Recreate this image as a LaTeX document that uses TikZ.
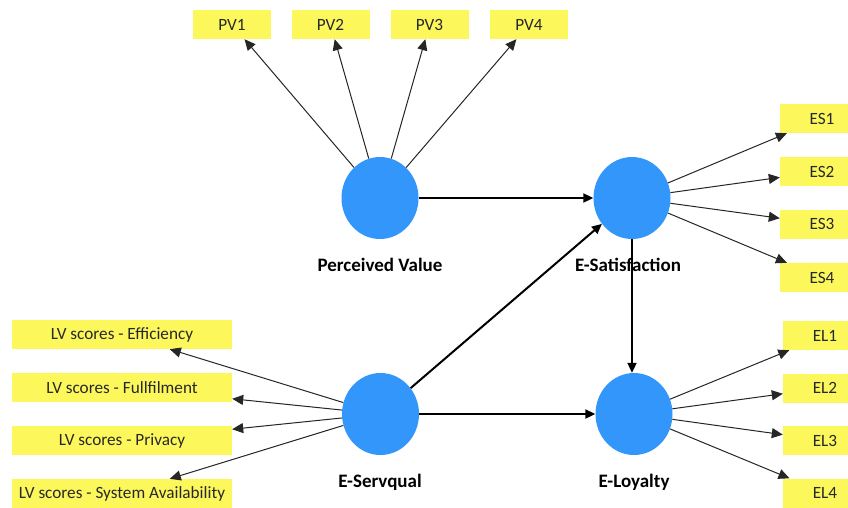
\documentclass[tikz,border=0pt]{standalone}
\usepackage{fontspec}
\setmainfont{Carlito}
\usetikzlibrary{arrows.meta,shapes.geometric}
\definecolor{lvblue}{RGB}{51,150,250}
\definecolor{mvyellow}{RGB}{252,248,92}
\definecolor{txtgray}{RGB}{40,40,40}
\tikzset{
  latent/.style={ellipse,fill=lvblue,draw=none,minimum width=77pt,minimum height=82pt,inner sep=0pt},
  mvbox/.style={rectangle,fill=mvyellow,draw=none,minimum height=29pt,inner sep=0pt,text=txtgray,font=\fontsize{17.2}{19}\selectfont},
  lvlabel/.style={font=\bfseries\fontsize{19}{21}\selectfont,text=black},
  indarrow/.style={draw=black!85,line width=1pt,-{Triangle[length=11pt,width=10pt]}},
  patharrow/.style={draw=black,line width=2pt,-{Triangle[length=10pt,width=9pt]}}
}
\begin{document}
\begin{tikzpicture}[x=1pt,y=-1pt]
\useasboundingbox (0,0) rectangle (848,507);
\fill[white] (0,0) rectangle (848,507);
% latent variables
\node[latent] (pv) at (380,198) {};
\node[latent] (esat) at (632,198) {};
\node[latent] (esq) at (380.5,414) {};
\node[latent] (eloy) at (634,414) {};
\node[lvlabel] (pvl) at (380,265) {Perceived Value};
\node[lvlabel] (esatl) at (628,265) {E-Satisfaction};
\node[lvlabel] (esql) at (380,482) {E-Servqual};
\node[lvlabel] (eloyl) at (634,482) {E-Loyalty};
% PV indicators
\node[mvbox,minimum width=78pt] (pv1) at (232,24.5) {PV1};
\node[mvbox,minimum width=78pt] (pv2) at (330.5,24.5) {PV2};
\node[mvbox,minimum width=78pt] (pv3) at (429.5,24.5) {PV3};
\node[mvbox,minimum width=78pt] (pv4) at (529,24.5) {PV4};
% ES indicators
\node[mvbox,minimum width=84pt] (es1) at (822,118.5) {ES1};
\node[mvbox,minimum width=84pt] (es2) at (822,171.5) {ES2};
\node[mvbox,minimum width=84pt] (es3) at (822,224) {ES3};
\node[mvbox,minimum width=84pt] (es4) at (822,277.5) {ES4};
% EL indicators
\node[mvbox,minimum width=84pt] (el1) at (825,335.5) {EL1};
\node[mvbox,minimum width=84pt] (el2) at (825,388) {EL2};
\node[mvbox,minimum width=84pt] (el3) at (825,440.5) {EL3};
\node[mvbox,minimum width=84pt] (el4) at (825,493) {EL4};
% E-Servqual indicators
\node[mvbox,minimum width=220pt] (sq1) at (122,334.5) {LV scores - Efficiency};
\node[mvbox,minimum width=220pt] (sq2) at (122,387.5) {LV scores - Fullfilment};
\node[mvbox,minimum width=220pt] (sq3) at (122,440.5) {LV scores - Privacy};
\node[mvbox,minimum width=220pt] (sq4) at (122,493.5) {LV scores - System Availability};
% indicator arrows
\foreach \t in {pv1,pv2,pv3,pv4} \draw[indarrow] (pv) -- (\t);
\foreach \t in {es1,es2,es3,es4} \draw[indarrow] (esat) -- (\t);
\foreach \t in {el1,el2,el3,el4} \draw[indarrow] (eloy) -- (\t);
\foreach \t in {sq1,sq2,sq3,sq4} \draw[indarrow] (esq) -- (\t);
% structural arrows
\draw[patharrow] (pv) -- (esat);
\draw[patharrow] (esq) -- (esat);
\draw[patharrow] (esq) -- (eloy);
\draw[patharrow] (esat.south) -- (esat.south |- eloy.north);
\end{tikzpicture}
\end{document}
